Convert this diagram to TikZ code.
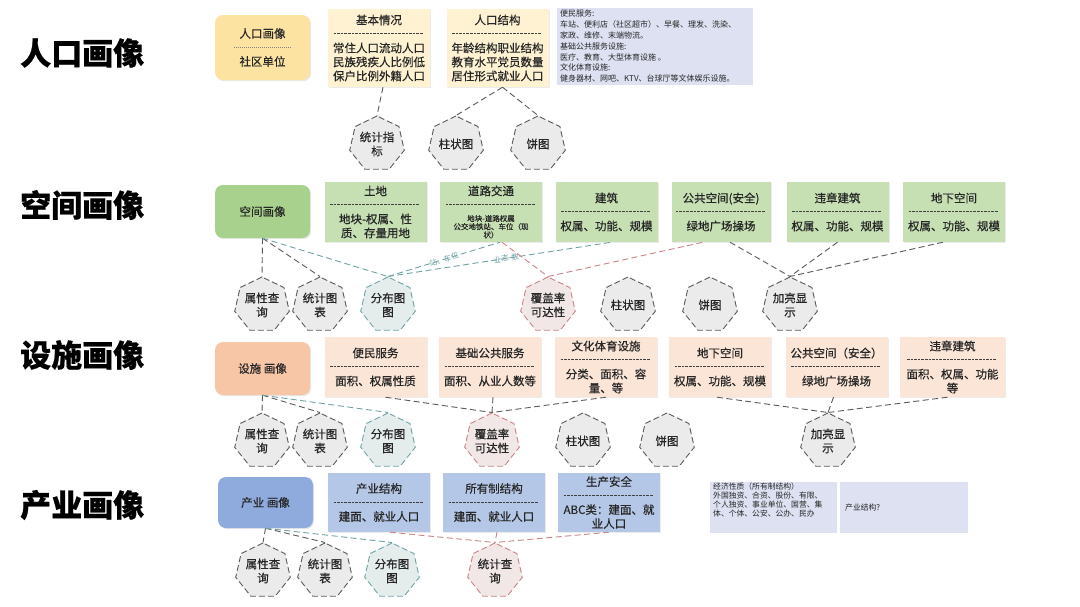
\documentclass[tikz,border=0pt]{standalone}
\usepackage{fontspec}
\setmainfont[FakeBold=0.5]{Noto Sans CJK SC}
\newfontfamily\plainf{Noto Sans CJK SC}
\usetikzlibrary{shapes.geometric,shadows}
\definecolor{aMain}{HTML}{FCE3A2}
\definecolor{aSub}{HTML}{FFF2D2}
\definecolor{bMain}{HTML}{A9D18E}
\definecolor{bSub}{HTML}{C6E0B4}
\definecolor{cMain}{HTML}{F7C6A6}
\definecolor{cSub}{HTML}{FBE5D6}
\definecolor{dMain}{HTML}{8FAADC}
\definecolor{dSub}{HTML}{B4C7E7}
\definecolor{lav}{HTML}{DDE1F2}
\definecolor{hFill}{HTML}{EBEBEB}
\definecolor{hDraw}{HTML}{5A5A5A}
\definecolor{tealC}{HTML}{6FA3A6}
\definecolor{tealF}{HTML}{E5ECEC}
\definecolor{pinkC}{HTML}{C98585}
\definecolor{pinkF}{HTML}{F1E7E7}
\definecolor{txtC}{HTML}{262626}
\definecolor{sepC}{HTML}{404040}
\newcommand\hf{\fontsize{11.5}{14}\selectfont}
\newcommand\smf{\fontsize{7.5}{8.2}\selectfont}
\newcommand\dsep{\leavevmode\hbox to 92pt{\color{sepC}\leaders\hbox to 3.6pt{\hss\vrule width 2.6pt height 5pt depth -4.1pt\hss}\hfill}}
\newcommand\dotsep{\leavevmode\hbox to 58pt{\color{gray}\leaders\hbox to 2pt{\hss\vrule width 1pt height 4.6pt depth -4.1pt\hss}\hfill}}
\begin{document}
\begin{tikzpicture}[x=1pt,y=-1pt,
  ttl/.style={anchor=west, inner sep=0pt, font=\fontsize{31}{36}\selectfont\bfseries, text=black},
  mainbox/.style={rounded corners=8pt, minimum width=95pt, align=center, font=\hf, text=txtC, inner sep=2pt,
    drop shadow={shadow xshift=1.2pt, shadow yshift=-1.2pt, opacity=0.18}},
  subbox/.style={minimum width=102pt, align=center, font=\hf, text=txtC, inner sep=2pt,
    drop shadow={shadow xshift=1.2pt, shadow yshift=-1.2pt, opacity=0.15}},
  hept/.style={regular polygon, regular polygon sides=7, minimum size=56pt, inner sep=0pt,
    draw=hDraw, fill=hFill, dash pattern=on 6pt off 3pt, line width=0.9pt, align=center, font=\hf, text=txtC},
  heptT/.style={hept, draw=tealC, fill=tealF},
  heptP/.style={hept, draw=pinkC, fill=pinkF},
  conn/.style={draw=hDraw, dash pattern=on 6pt off 3.5pt, line width=0.9pt},
  connT/.style={conn, draw=tealC},
  connP/.style={conn, draw=pinkC},
  lbl/.style={sloped, font=\plainf\fontsize{7.5}{8}\selectfont, text=tealC, inner sep=0.3pt}
]
\fill[white] (0,0) rectangle (1080,606);
\path[use as bounding box] (0,0) rectangle (1080,606);

% row titles
\node[ttl] (t1) at (20,53) {人口画像};
\node[ttl] (t2) at (20,205) {空间画像};
\node[ttl] (t3) at (20,355) {设施画像};
\node[ttl] (t4) at (20,505) {产业画像};

% main boxes
\node[mainbox, fill=aMain, minimum height=65pt] (ma) at (262.5,47.5) {人口画像\\\dotsep\\社区单位};
\node[mainbox, fill=bMain, minimum height=53pt] (mb) at (262.5,211.5) {空间画像};
\node[mainbox, fill=cMain, minimum height=53pt] (mc) at (262.5,368.5) {设施 画像};
\node[mainbox, fill=dMain, minimum height=51pt] (md) at (265.5,502.5) {产业 画像};

% row 1
\node[subbox, fill=aSub, minimum height=78pt] (jb) at (379,48) {基本情况\\\dsep\\常住人口流动人口\\民族残疾人比例低\\保户比例外籍人口};
\node[subbox, fill=aSub, minimum height=78pt] (rj) at (497.5,48) {人口结构\\\dsep\\年龄结构职业结构\\教育水平党员数量\\居住形式就业人口};
\node[fill=lav, minimum width=196pt, minimum height=77pt, anchor=north west, inner sep=0pt] (lt) at (557,8) {};
\node[anchor=north west, inner sep=0pt, align=left, font=\plainf\fontsize{8}{10.8}\selectfont, text=txtC] (ltt) at (560,10)
 {便民服务:\\车站、便利店（社区超市）、早餐、理发、洗染、\\家政、维修、末端物流。\\基础公共服务设施:\\医疗、教育、大型体育设施 。\\文化体育设施:\\健身器材、网吧、KTV、台球厅等文体娱乐设施。};

\node[hept] (h11) at (377,144) {统计指\\标};
\node[hept] (h12) at (456,144) {柱状图};
\node[hept] (h13) at (538,144) {饼图};

% row 2
\node[subbox, fill=bSub, minimum height=60pt] (b1) at (375.5,212) {土地\\\dsep\\地块-权属、性\\质、存量用地};
\node[subbox, fill=bSub, minimum height=60pt] (b2) at (491,212) {道路交通\\\dsep\\[-2pt]\parbox[t]{96pt}{\centering\smf 地块-道路权属\\公交地铁站、车位（现\\状）}};
\node[subbox, fill=bSub, minimum height=60pt] (b3) at (606.5,212) {建筑\\\dsep\\权属、功能、规模};
\node[subbox, fill=bSub, minimum height=60pt, minimum width=99pt] (b4) at (721,212) {公共空间(安全)\\\dsep\\绿地广场操场};
\node[subbox, fill=bSub, minimum height=60pt] (b5) at (837.5,212) {违章建筑\\\dsep\\权属、功能、规模};
\node[subbox, fill=bSub, minimum height=60pt] (b6) at (954,212) {地下空间\\\dsep\\权属、功能、规模};

\node[hept] (s1) at (262,305) {属性查\\询};
\node[hept] (s2) at (320,305) {统计图\\表};
\node[heptT] (s3) at (388,305) {分布图\\图};
\node[heptP] (s4) at (548,305) {覆盖率\\可达性};
\node[hept] (s5) at (628,305) {柱状图};
\node[hept] (s6) at (710,305) {饼图};
\node[hept] (s7) at (790,305) {加亮显\\示};

% row 3
\node[subbox, fill=cSub, minimum height=60pt] (c1) at (375.5,367) {便民服务\\\dsep\\面积、权属性质};
\node[subbox, fill=cSub, minimum height=60pt] (c2) at (490,367) {基础公共服务\\\dsep\\面积、从业人数等};
\node[subbox, fill=cSub, minimum height=60pt] (c3) at (606,367) {文化体育设施\\\dsep\\分类、面积、容\\量、等};
\node[subbox, fill=cSub, minimum height=60pt] (c4) at (720,367) {地下空间\\\dsep\\权属、功能、规模};
\node[subbox, fill=cSub, minimum height=60pt] (c5) at (836.5,367) {公共空间（安全）\\\dsep\\绿地广场操场};
\node[subbox, fill=cSub, minimum height=60pt, minimum width=105pt] (c6) at (952.5,367) {违章建筑\\\dsep\\面积、权属、功能\\等};

\node[hept] (u1) at (262,441) {属性查\\询};
\node[hept] (u2) at (320,441) {统计图\\表};
\node[heptT] (u3) at (388,441) {分布图\\图};
\node[heptP] (u4) at (492,441) {覆盖率\\可达性};
\node[hept] (u5) at (583,441) {柱状图};
\node[hept] (u6) at (667,441) {饼图};
\node[hept] (u7) at (828,441) {加亮显\\示};

% row 4
\node[subbox, fill=dSub, minimum height=59pt] (d1) at (379,502.5) {产业结构\\\dsep\\建面、就业人口};
\node[subbox, fill=dSub, minimum height=59pt] (d2) at (494,502.5) {所有制结构\\\dsep\\建面、就业人口};
\node[subbox, fill=dSub, minimum height=59pt] (d3) at (609,502.5) {生产安全\\\dsep\\ABC类：建面、就\\业人口};

\node[fill=lav, minimum width=127pt, minimum height=51pt, inner sep=0pt] (lb1) at (773.5,507.5) {};
\node[fill=lav, minimum width=128pt, minimum height=51pt, inner sep=0pt] (lb2) at (904,507.5) {};
\node[anchor=north west, inner sep=0pt, align=left, font=\plainf\fontsize{7.8}{8.8}\selectfont, text=txtC] (lbt1) at (713,483)
 {经济性质（所有制结构）\\外国独资、合资、股份、有限、\\个人独资、事业单位、国营、集\\体、个体、公安、公办、民办};
\node[anchor=west, inner sep=0pt, font=\plainf\fontsize{7.8}{8.8}\selectfont, text=txtC] (lbt2) at (845,508) {产业结构?};

\node[hept] (v1) at (263,571) {属性查\\询};
\node[hept] (v2) at (325,571) {统计图\\表};
\node[heptT] (v3) at (392,571) {分布图\\图};
\node[heptP] (v4) at (495,571) {统计查\\询};

% connectors row 1
\draw[conn] ([xshift=4pt]jb.south) -- (h11.corner 1);
\draw[conn] ([xshift=5pt]rj.south) -- (h12.corner 1);
\draw[conn] ([xshift=5pt]rj.south) -- (h13.corner 1);

% connectors row 2
\draw[conn] (mb.south) -- (s1.corner 1);
\draw[conn] (mb.south) -- (s2.corner 1);
\draw[connT] (mb.south) -- (s3.corner 1);
\draw[connT] (s3.corner 1) -- node[lbl, pos=0.5] {站、车位} ([xshift=9pt]b2.south);
\draw[connT] (s3.corner 1) -- node[lbl, pos=0.53] {业态-数} ([xshift=5pt]b3.south);
\draw[connP] ([xshift=11pt]b2.south) -- (s4.corner 1);
\draw[connP] (s4.corner 1) -- ([xshift=-18pt]b4.south);
\draw[conn] ([xshift=9pt]b4.south) -- (s7.corner 1);
\draw[conn] (b5.south) -- (s7.corner 1);
\draw[conn] ([xshift=-11pt]b6.south) -- (s7.corner 1);

% connectors row 3
\draw[conn] (mc.south) -- (u1.corner 1);
\draw[conn] (mc.south) -- (u2.corner 1);
\draw[connT] (mc.south) -- (u3.corner 1);
\draw[conn] ([xshift=10pt]c1.south) -- (u4.corner 1);
\draw[conn] ([xshift=3pt]c2.south) -- (u4.corner 1);
\draw[conn] (c3.south) -- (u4.corner 1);
\draw[conn] ([xshift=-3pt]c4.south) -- (u7.corner 1);
\draw[conn] ([xshift=-3pt]c5.south) -- (u7.corner 1);
\draw[conn] ([xshift=-5pt]c6.south) -- (u7.corner 1);

% connectors row 4
\draw[conn] (md.south) -- (v1.corner 1);
\draw[conn] (md.south) -- (v2.corner 1);
\draw[connT] (md.south) -- (v3.corner 1);
\draw[connP] ([xshift=11pt]d1.south) -- (v4.corner 1);
\draw[connP] ([xshift=3pt]d2.south) -- (v4.corner 1);
\draw[connP] (d3.south) -- (v4.corner 1);
\end{tikzpicture}
\end{document}
